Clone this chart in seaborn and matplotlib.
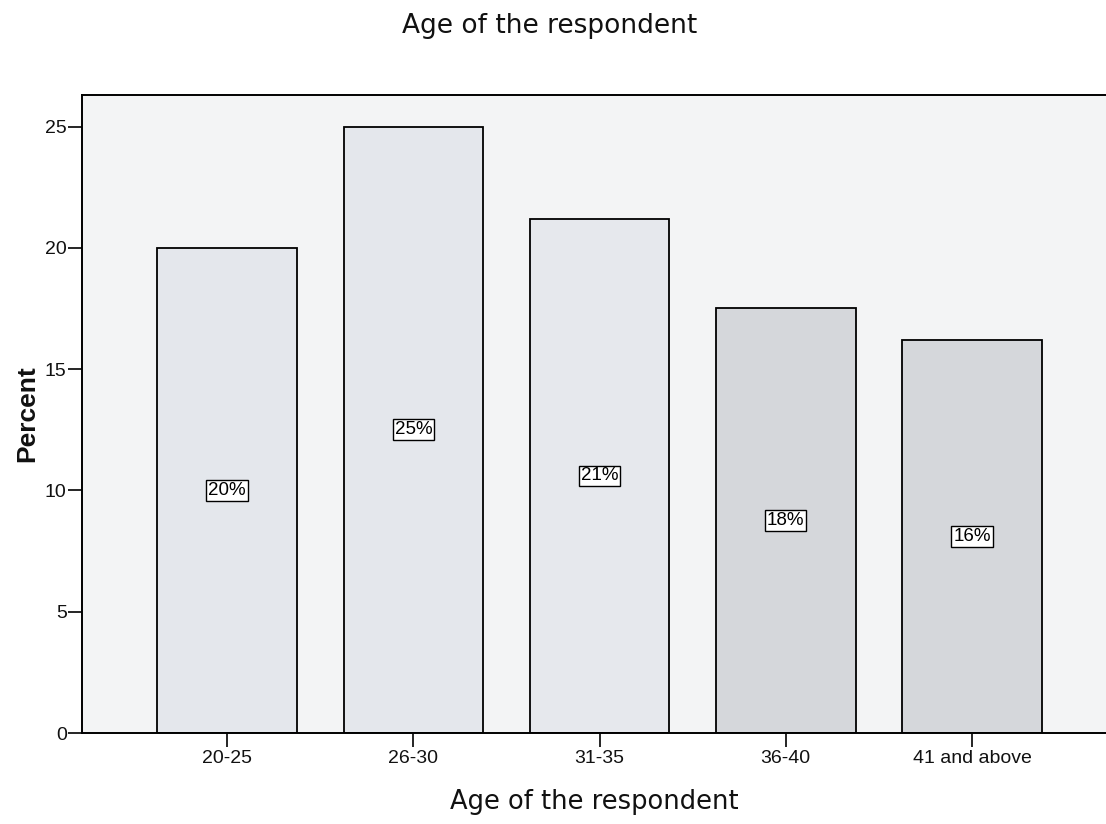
import matplotlib
matplotlib.use("Agg")
import matplotlib.pyplot as plt
import seaborn as sns
import pandas as pd

# Age distribution of respondents (percent)
age_groups = ["20-25", "26-30", "31-35", "36-40", "41 and above"]
percents = [20.0, 25.0, 21.2, 17.5, 16.2]
bar_colors = ["#e4e7ec", "#e4e7ec", "#e6e8ed", "#d5d7db", "#d5d7db"]
y_ticks = [0, 5, 10, 15, 20, 25]

sns.set_theme(style="white")
plt.rcParams["font.family"] = ["Liberation Sans", "DejaVu Sans"]

df = pd.DataFrame({"age": age_groups, "pct": percents})

fig = plt.figure(figsize=(11.06, 8.24), dpi=100)
ax = fig.add_axes([0.0741, 0.1104, 0.9259, 0.7743])
ax.set_facecolor("#f3f4f5")

sns.barplot(data=df, x="age", y="pct", hue="age", palette=bar_colors,
            legend=False, width=0.75, edgecolor="black", linewidth=1.3,
            saturation=1, ax=ax)

for i, v in enumerate(percents):
    ax.text(i, v / 2, f"{round(v):d}%", ha="center", va="center",
            fontsize=13.5, color="black",
            bbox=dict(boxstyle="square,pad=0.1", facecolor="white",
                      edgecolor="black", linewidth=1.0))

ax.set_xlim(-0.78, 4.72)
ax.set_ylim(0, 26.3)
ax.set_yticks(y_ticks)
ax.tick_params(axis="both", which="both", direction="out", length=10,
               width=1.2, color="black", labelsize=14, labelcolor="#111111",
               left=True, bottom=True, pad=2)
ax.tick_params(axis="y", pad=1)

for side in ["left", "bottom", "top"]:
    ax.spines[side].set_visible(True)
    ax.spines[side].set_color("black")
    ax.spines[side].set_linewidth(1.4)
ax.spines["right"].set_visible(False)

ax.set_xlabel("Age of the respondent", fontsize=18.5, family="DejaVu Sans",
              labelpad=16, color="#111111")
ax.set_ylabel("Percent", fontsize=19, fontweight="bold", labelpad=4,
              color="#111111")

fig.text(0.497, 0.968, "Age of the respondent", ha="center", va="center",
         fontsize=19, family="DejaVu Sans", color="#111111")

fig.savefig("out.png", dpi=100, facecolor="white")
